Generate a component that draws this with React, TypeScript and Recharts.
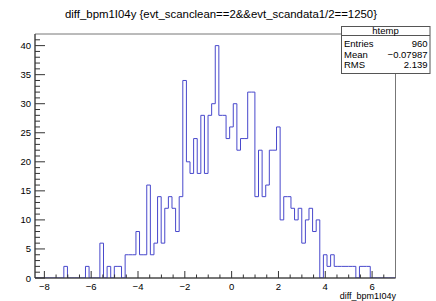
import React from 'react';
import { LineChart, Line, XAxis, YAxis, ReferenceArea } from 'recharts';

// htemp: 100 bins on [-8.4, 7.0]
const X_MIN = -8.4;
const X_MAX = 7.0;
const Y_MAX = 42;

const binCounts = [
  0, 0, 0, 0, 0, 0, 0, 0, 2, 0,
  0, 0, 0, 0, 2, 0, 0, 0, 6, 0,
  2, 0, 2, 2, 0, 4, 4, 4, 8, 4,
  4, 16, 4, 6, 14, 6, 12, 14, 12, 8,
  14, 34, 20, 18, 24, 18, 28, 18, 28, 30,
  40, 28, 28, 24, 26, 30, 22, 24, 24, 32,
  32, 14, 22, 14, 16, 22, 22, 26, 10, 14,
  14, 12, 10, 12, 6, 10, 12, 8, 10, 0,
  4, 2, 4, 2, 2, 2, 2, 2, 2, 0,
  2, 2, 2, 0, 0, 0, 0, 0, 0, 0,
];

const xTicks = [
  -8, -7.5, -7, -6.5, -6, -5.5, -5, -4.5, -4, -3.5, -3, -2.5, -2, -1.5, -1, -0.5,
  0, 0.5, 1, 1.5, 2, 2.5, 3, 3.5, 4, 4.5, 5, 5.5, 6, 6.5,
];
const xLabels = [-8, -6, -4, -2, 0, 2, 4, 6];

const yTicks = [
  0, 1, 2, 3, 4, 5, 6, 7, 8, 9, 10, 11, 12, 13, 14, 15, 16, 17, 18, 19, 20,
  21, 22, 23, 24, 25, 26, 27, 28, 29, 30, 31, 32, 33, 34, 35, 36, 37, 38, 39, 40, 41,
];
const yLabels = [0, 5, 10, 15, 20, 25, 30, 35, 40];

const title = 'diff_bpm1I04y {evt_scanclean==2&&evt_scandata1/2==1250}';
const xTitle = 'diff_bpm1I04y';
const statsName = 'htemp';
const statsRows = [
  ['Entries', '960'],
  ['Mean', '\u22120.07987'],
  ['RMS', '2.139'],
];

// step outline: one point per bin edge
const binW = (X_MAX - X_MIN) / binCounts.length;
const points = binCounts.map((c, i) => ({ x: X_MIN + i * binW, y: c }));
points.push({ x: X_MAX, y: binCounts[binCounts.length - 1] });

const font = '"Liberation Sans", Arial, Helvetica, sans-serif';
const fmt = (v: number) => (v < 0 ? '\u2212' + Math.abs(v) : String(v));

const XTick = (props: any) => {
  const { x, y, payload } = props;
  const major = xLabels.includes(payload.value);
  return (
    <g>
      <line x1={x} x2={x} y1={y} y2={y - (major ? 7 : 3.5)} stroke="#333" />
      {major && (
        <text x={x} y={y + 11.8} textAnchor="middle" fontSize={9.5} fontFamily={font} fill="#000">
          {fmt(payload.value)}
        </text>
      )}
    </g>
  );
};

const YTick = (props: any) => {
  const { x, y, payload } = props;
  const major = yLabels.includes(payload.value);
  return (
    <g>
      <line x1={x} x2={x + (major ? 10 : 5)} y1={y} y2={y} stroke="#333" />
      {major && (
        <text x={x - 4} y={y + 3.5} textAnchor="end" fontSize={9.5} fontFamily={font} fill="#000">
          {payload.value}
        </text>
      )}
    </g>
  );
};

export default function App() {
  return (
    <div style={{ position: 'relative', width: 436, height: 301, background: '#fff' }}>
      <style>{'body{margin:0}'}</style>
      <LineChart
        width={436}
        height={301}
        data={points}
        margin={{ top: 34, right: 40.5, bottom: 0, left: 0 }}
      >
        <ReferenceArea
          x1={X_MIN}
          x2={X_MAX}
          y1={0}
          y2={Y_MAX}
          fill="none"
          stroke="#777"
          ifOverflow="visible"
        />
        <XAxis
          type="number"
          dataKey="x"
          domain={[X_MIN, X_MAX]}
          ticks={xTicks}
          interval={0}
          tickSize={0}
          tickMargin={0}
          tickLine={false}
          tick={(p: any) => <XTick {...p} />}
          height={23}
          axisLine={{ stroke: '#333' }}
          allowDataOverflow
        />
        <YAxis
          type="number"
          domain={[0, Y_MAX]}
          ticks={yTicks}
          interval={0}
          tickSize={0}
          tickMargin={0}
          tickLine={false}
          tick={(p: any) => <YTick {...p} />}
          width={35}
          axisLine={{ stroke: '#333' }}
          allowDataOverflow
        />
        <Line
          dataKey="y"
          type="stepAfter"
          stroke="#4848cc"
          strokeWidth={1}
          dot={false}
          isAnimationActive={false}
        />
      </LineChart>
      <svg
        width={436}
        height={301}
        style={{ position: 'absolute', left: 0, top: 0, pointerEvents: 'none' }}
      >
        <text x={221} y={18} textAnchor="middle" fontSize={11.4} fontFamily={font}>
          {title}
        </text>
        <text x={396} y={299} textAnchor="end" fontSize={9} fontFamily={font}>
          {xTitle}
        </text>
        <rect x={341.5} y={26.5} width={88.5} height={47} fill="#fff" stroke="#555" />
        <line x1={341.5} x2={430} y1={35.5} y2={35.5} stroke="#555" />
        <text x={385.5} y={33.5} textAnchor="middle" fontSize={9.5} fontFamily={font}>
          {statsName}
        </text>
        {statsRows.map((r, i) => (
          <g key={r[0]}>
            <text x={344} y={47 + i * 10.7} fontSize={9.5} fontFamily={font}>
              {r[0]}
            </text>
            <text x={427.5} y={47 + i * 10.7} textAnchor="end" fontSize={9.5} fontFamily={font}>
              {r[1]}
            </text>
          </g>
        ))}
      </svg>
    </div>
  );
}
